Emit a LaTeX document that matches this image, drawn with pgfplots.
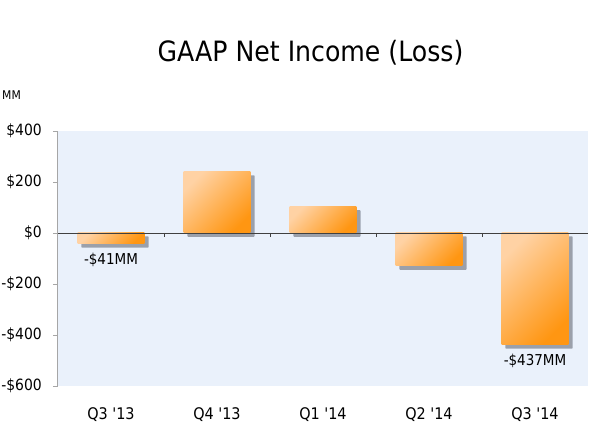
\documentclass[border=0pt]{standalone}
\usepackage{pgfplots}
\pgfplotsset{compat=1.18}
\usepackage{fontspec}
\setmainfont{DejaVu Sans Condensed}
\usetikzlibrary{shadows}
\definecolor{bgblue}{HTML}{EAF1FB}
\definecolor{barlight}{HTML}{FFD2A4}
\definecolor{bardark}{HTML}{FF9612}
\definecolor{axisgray}{HTML}{A6A6A6}
\definecolor{shadowgray}{HTML}{8C93A0}
\pgfplotsset{orangebar/.style={draw=none, top color=barlight, bottom color=bardark, shading angle=45, bar shift=0pt,
  drop shadow={shadow xshift=4pt, shadow yshift=-4pt, opacity=0.55, top color=shadowgray, bottom color=shadowgray}}}
\begin{document}
\begin{tikzpicture}
\useasboundingbox (-58pt,-56pt) rectangle (532pt,386pt);
\begin{axis}[
  at={(0pt,0pt)}, anchor=south west,
  scale only axis, width=530pt, height=255pt,
  xmin=-0.5, xmax=4.5, ymin=-600, ymax=400,
  axis background/.style={fill=bgblue},
  axis x line*=bottom, axis y line*=left,
  x axis line style={draw=none},
  y axis line style={draw=axisgray, line width=1pt},
  xtick={0,1,2,3,4},
  xticklabels={Q3 \textquotesingle13, Q4 \textquotesingle13, Q1 \textquotesingle14, Q2 \textquotesingle14, Q3 \textquotesingle14},
  xtick style={draw=none},
  ytick={-600,-400,-200,0,200,400},
  yticklabels={-\$600,-\$400,-\$200,\$0,\$200,\$400},
  ytick style={draw=axisgray, line width=0.6pt},
  tick align=outside, major tick length=5pt,
  tick label style={font=\fontsize{16}{18}\selectfont},
  yticklabel style={font=\fontsize{15.5}{18}\selectfont},
  xticklabel style={anchor=base, yshift=-29pt},
  yticklabel style={anchor=east, inner sep=0pt, xshift=-11pt},
  ybar, bar width=0.63,
  clip=false,
]
\addplot[orangebar] coordinates {(0,-41)};
\addplot[orangebar] coordinates {(1,240)};
\addplot[orangebar] coordinates {(2,105)};
\addplot[orangebar] coordinates {(3,-128)};
\addplot[orangebar] coordinates {(4,-437)};
\draw[color=black!75, line width=0.8pt] (axis cs:-0.5,0) -- (axis cs:4.5,0);
\pgfplotsinvokeforeach{0.5,1.5,2.5,3.5}{
  \draw[color=black!75, line width=0.8pt] (axis cs:#1,0) -- ++(0pt,-4pt);
}
\node[anchor=base, yshift=-21.5pt, font=\fontsize{15}{17}\selectfont] at (axis cs:0,-41) {-\$41MM};
\node[anchor=base, yshift=-21pt, font=\fontsize{15}{17}\selectfont] at (axis cs:4,-437) {-\$437MM};
\end{axis}
\node[anchor=base, font=\fontsize{28}{32}\selectfont] at (252.5pt,324pt) {GAAP Net Income (Loss)};
\node[font=\fontsize{12}{14}\selectfont, anchor=west, inner sep=0pt] at (-56pt,291pt) {MM};
\end{tikzpicture}
\end{document}
